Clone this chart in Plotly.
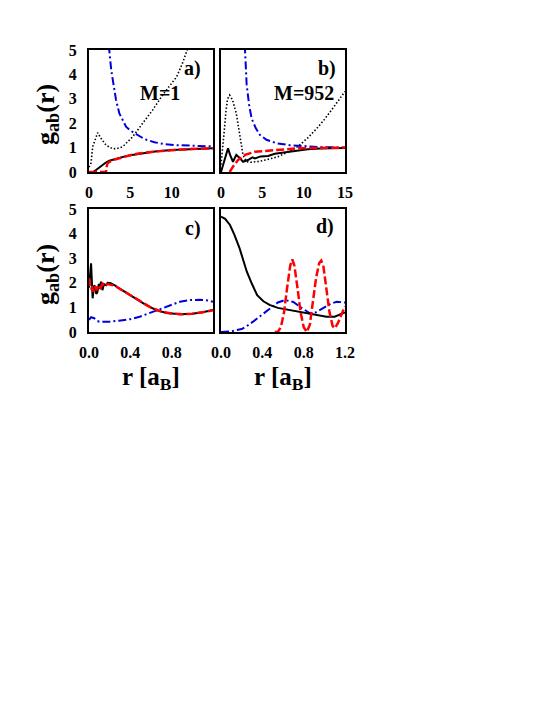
import plotly.graph_objects as go
from plotly.subplots import make_subplots

# panel a) M=1, r in a_B (0..15)
black_a_r = [0.0, 0.5, 0.85, 1.2, 1.66, 2.0, 2.46, 3.0, 4.0, 5.0, 6.0, 8.0, 10.0, 12.0, 15.0]
black_a_g = [0.0, 0.0, 0.08, 0.18, 0.29, 0.38, 0.46, 0.52, 0.61, 0.69, 0.75, 0.84, 0.9, 0.94, 0.97]
red_a_r = [0.0, 2.06, 2.1, 2.26, 2.5, 3.0, 3.67, 4.0, 5.0, 5.7, 6.0, 8.0, 10.0, 12.0, 15.0]
red_a_g = [0.0, 0.0, 0.2, 0.36, 0.42, 0.5, 0.56, 0.6, 0.69, 0.74, 0.76, 0.84, 0.9, 0.94, 0.97]
blue_a_r = [2.2, 2.46, 2.7, 2.95, 3.27, 3.67, 4.1, 4.48, 5.0, 5.7, 6.7, 7.9, 9.0, 10.5, 12.0, 13.5, 15.0]
blue_a_g = [6.5, 4.95, 4.15, 3.55, 2.95, 2.4, 2.1, 1.86, 1.7, 1.55, 1.35, 1.22, 1.15, 1.1, 1.08, 1.06, 1.05]
dot_a_r = [0.0, 0.24, 0.45, 0.85, 1.05, 1.45, 2.06, 2.87, 3.5, 4.08, 5.3, 6.5, 7.7, 9.0, 10.0, 10.6, 11.3, 11.8, 12.3]
dot_a_g = [0.2, 0.36, 1.04, 1.45, 1.61, 1.38, 1.1, 0.95, 0.97, 1.04, 1.45, 2.0, 2.54, 3.2, 3.65, 3.9, 4.45, 4.95, 5.4]

# panel b) M=952
black_b_r = [0.0, 0.4, 0.85, 1.1, 1.45, 1.85, 2.2, 2.66, 3.26, 3.8, 4.1, 4.8, 5.7, 6.5, 7.7, 9.0, 10.5, 12.0, 15.0]
black_b_g = [0.0, 0.45, 0.97, 0.7, 0.42, 0.7, 0.6, 0.42, 0.49, 0.6, 0.56, 0.64, 0.66, 0.75, 0.8, 0.88, 0.93, 0.96, 0.98]
red_b_r = [1.05, 1.45, 2.05, 2.9, 4.1, 5.7, 7.5, 9.3, 11.0, 13.0, 15.0]
red_b_g = [0.0, 0.22, 0.49, 0.7, 0.83, 0.88, 0.93, 0.97, 0.98, 0.99, 1.0]
blue_b_r = [2.7, 2.9, 3.1, 3.4, 3.7, 4.2, 4.7, 5.5, 6.7, 8.3, 10.0, 12.0, 15.0]
blue_b_g = [6.5, 5.0, 3.6, 2.75, 2.2, 1.8, 1.52, 1.32, 1.18, 1.1, 1.05, 1.02, 1.0]
dot_b_r = [0.0, 0.2, 0.4, 0.6, 0.8, 1.05, 1.4, 1.85, 2.26, 2.66, 3.06, 3.6, 4.5, 5.5, 6.9, 8.0, 9.3, 10.5, 11.6, 12.5, 13.5, 14.3, 15.0]
dot_b_g = [0.3, 0.9, 1.7, 2.5, 3.0, 3.15, 2.95, 2.4, 1.45, 0.7, 0.43, 0.4, 0.43, 0.5, 0.63, 0.8, 1.04, 1.4, 1.79, 2.15, 2.6, 2.95, 3.3]

# panel c)
black_c_r = [0.0, 0.01, 0.02, 0.035, 0.05, 0.06, 0.07, 0.08, 0.095, 0.105, 0.116, 0.13, 0.145, 0.165,
             0.18, 0.21, 0.25, 0.29, 0.35, 0.4, 0.45, 0.55, 0.65, 0.75, 0.88, 1.0, 1.1, 1.2]
black_c_g = [1.8, 2.3, 2.79, 1.37, 1.9, 1.84, 1.55, 1.6, 1.95, 1.75, 2.05, 1.7, 1.95, 1.9,
             2.0, 1.98, 1.9, 1.78, 1.62, 1.5, 1.38, 1.1, 0.89, 0.77, 0.72, 0.74, 0.8, 0.9]
red_c_r = [0.0, 0.015, 0.03, 0.045, 0.06, 0.075, 0.09, 0.11, 0.13, 0.15, 0.18, 0.21, 0.25, 0.3,
           0.4, 0.5, 0.6, 0.7, 0.8, 0.9, 1.0, 1.1, 1.2]
red_c_g = [2.2, 1.75, 1.8, 1.65, 1.85, 1.7, 1.9, 1.8, 1.95, 1.85, 1.95, 1.93, 1.88, 1.75,
           1.5, 1.22, 0.99, 0.83, 0.75, 0.72, 0.74, 0.8, 0.88]
blue_c_r = [0.0, 0.02, 0.05, 0.08, 0.1, 0.2, 0.29, 0.4, 0.49, 0.58, 0.65, 0.75, 0.88, 0.98, 1.07, 1.15, 1.2]
blue_c_g = [0.49, 0.6, 0.56, 0.45, 0.42, 0.42, 0.46, 0.52, 0.62, 0.76, 0.89, 1.05, 1.23, 1.3, 1.31, 1.28, 1.23]

# panel d)
black_d_r = [0.0, 0.04, 0.087, 0.13, 0.18, 0.25, 0.3, 0.35, 0.41, 0.47, 0.55, 0.67, 0.78, 0.86, 0.95, 1.02, 1.1, 1.15, 1.2]
black_d_g = [4.69, 4.6, 4.35, 3.95, 3.4, 2.45, 1.95, 1.5, 1.25, 1.1, 0.98, 0.89, 0.8, 0.76, 0.68, 0.62, 0.62, 0.7, 0.8]
red_d_r = [0.52, 0.55, 0.58, 0.61, 0.64, 0.67, 0.69, 0.71, 0.74, 0.77, 0.8, 0.83, 0.86, 0.89, 0.92,
           0.95, 0.97, 0.99, 1.02, 1.05, 1.08, 1.1, 1.13, 1.16, 1.2]
red_d_g = [0.0, 0.0, 0.2, 0.8, 1.8, 2.7, 2.95, 2.7, 1.8, 0.8, 0.2, 0.0, 0.3, 1.2, 2.2,
           2.8, 2.9, 2.7, 1.8, 0.8, 0.25, 0.15, 0.35, 0.65, 1.05]
blue_d_r = [0.0, 0.1, 0.2, 0.25, 0.31, 0.4, 0.47, 0.55, 0.62, 0.7, 0.78, 0.86, 0.92, 1.0, 1.06, 1.12, 1.2]
blue_d_g = [0.0, 0.03, 0.12, 0.24, 0.42, 0.72, 0.96, 1.2, 1.3, 1.22, 0.98, 0.76, 0.8, 1.0, 1.15, 1.23, 1.2]

ticks_top = [0, 5, 10, 15]
ticks_bottom = [0.0, 0.4, 0.8, 1.2]
ticks_y = [0, 1, 2, 3, 4, 5]

FONT = "Liberation Serif"
W, H = 545, 705
OFF = 8  # page body margin


def px(x):
    return (x - OFF) / W


def py(y):
    return 1 - (y - OFF) / H


fig = make_subplots(rows=2, cols=2)

black = dict(color="black", width=2)
red = dict(color="#ff0000", width=2.5, dash="8px,3px")
blue = dict(color="#0000dd", width=2, dash="8px,3px,2px,3px")
dots = dict(color="black", width=1.6, dash="1.5px,2px")

panels = [
    (1, 1, [(dot_a_r, dot_a_g, dots), (blue_a_r, blue_a_g, blue), (black_a_r, black_a_g, black), (red_a_r, red_a_g, red)]),
    (1, 2, [(dot_b_r, dot_b_g, dots), (blue_b_r, blue_b_g, blue), (black_b_r, black_b_g, black), (red_b_r, red_b_g, red)]),
    (2, 1, [(blue_c_r, blue_c_g, blue), (black_c_r, black_c_g, black), (red_c_r, red_c_g, red)]),
    (2, 2, [(blue_d_r, blue_d_g, blue), (black_d_r, black_d_g, black), (red_d_r, red_d_g, red)]),
]
for row, col, series in panels:
    for xs, ys, ln in series:
        fig.add_trace(go.Scatter(x=xs, y=ys, mode="lines", line=ln, showlegend=False), row=row, col=col)

xdom = [[px(89), px(213)], [px(221), px(345)]]
ydom = [[py(172), py(50)], [py(332), py(209)]]

axis_style = dict(
    showline=True, mirror=True, linecolor="black", linewidth=2,
    showgrid=False, zeroline=False, ticks="", automargin=False,
)

for row in (1, 2):
    for col in (1, 2):
        if row == 1:
            xr = [0, 15]
            tv = ticks_top if col == 2 else ticks_top[:-1]
            tt = [str(v) for v in tv]
        else:
            xr = [0, 1.2]
            tv = ticks_bottom if col == 2 else ticks_bottom[:-1]
            tt = [f"{v:.1f}" for v in tv]
        fig.update_xaxes(range=xr, tickvals=tv, ticktext=tt, domain=xdom[col - 1],
                         ticklabelstandoff=5, row=row, col=col,
                         tickfont=dict(family=FONT, size=16, color="black", weight="bold"),
                         **axis_style)
        fig.update_yaxes(range=[0, 5], tickvals=ticks_y, domain=ydom[row - 1],
                         showticklabels=(col == 1), ticklabelstandoff=7,
                         tickfont=dict(family=FONT, size=16, color="black", weight="bold"),
                         row=row, col=col, **axis_style)

bold = dict(family=FONT, color="black", weight="bold")
labels = [
    ("x", "y", 12.5, 4.25, "a)"),
    ("x", "y", 8.6, 3.24, "M=1"),
    ("x2", "y2", 12.8, 4.25, "b)"),
    ("x2", "y2", 10.0, 3.22, "M=952"),
    ("x3", "y3", 1.01, 4.2, "c)"),
    ("x4", "y4", 1.007, 4.28, "d)"),
]
for xr_, yr_, x, y, t in labels:
    fig.add_annotation(xref=xr_, yref=yr_, x=x, y=y, text=t, showarrow=False,
                       xanchor="center", yanchor="middle", font=dict(size=20, **bold))

for yc in (115, 275):
    fig.add_annotation(xref="paper", yref="paper", x=px(47), y=py(yc), textangle=-90,
                       xanchor="center", yanchor="middle",
                       text="g<sub>ab</sub>(r)", showarrow=False, font=dict(size=26, **bold))
for xc in (151, 283):
    fig.add_annotation(xref="paper", yref="paper", x=px(xc), y=py(378),
                       xanchor="center", yanchor="middle",
                       text="r [a<sub>B</sub>]", showarrow=False, font=dict(size=25, **bold))

fig.update_layout(
    width=W, height=H,
    margin=dict(l=0, r=0, t=0, b=0),
    paper_bgcolor="white", plot_bgcolor="white",
)

fig.write_html("out.html")
